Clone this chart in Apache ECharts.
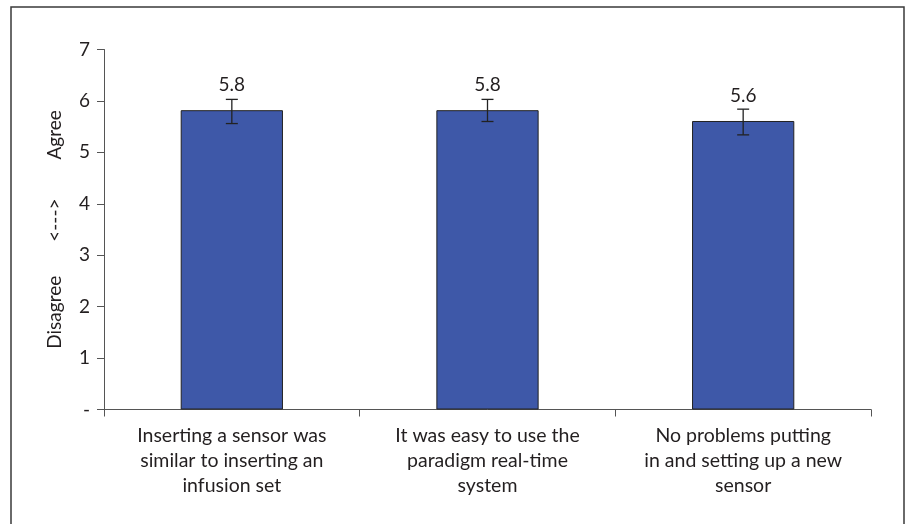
<!DOCTYPE html>
<html>
<head>
<meta charset="utf-8">
<script src="https://cdn.jsdelivr.net/npm/echarts@6/dist/echarts.min.js"></script>
<style>
html,body{margin:0;padding:0;background:#fff;}
#c{width:906px;height:524px;}
</style>
</head>
<body>
<div id="c"></div>
<script>
const categories = [
  "Inserting a sensor was\nsimilar to inserting an\ninfusion set",
  "It was easy to use the\nparadigm real-time\nsystem",
  "No problems putting\nin and setting up a new\nsensor"
];
const means = [5.82, 5.82, 5.61];
const errLow = [5.56, 5.60, 5.34];
const errHigh = [6.03, 6.03, 5.84];
const valueLabels = ["5.8", "5.8", "5.6"];
const yTickLabels = ["-", "1", "2", "3", "4", "5", "6", "7"];

const FONT = 'Lato';
const chart = echarts.init(document.getElementById('c'));
chart.setOption({
  animation: false,
  backgroundColor: '#fff',
  graphic: [{
    type: 'rect',
    shape: { x: 11, y: 7, width: 893, height: 530 },
    style: { fill: 'none', stroke: '#3a3a3a', lineWidth: 1.5 },
    silent: true
  }],
  grid: { left: 104, right: 35, top: 49.5, bottom: 114.5, containLabel: false },
  xAxis: {
    type: 'category',
    data: categories,
    axisLine: { lineStyle: { color: '#555', width: 1 } },
    axisTick: { show: true, length: 7, lineStyle: { color: '#555' } },
    axisLabel: { color: '#231f20', fontFamily: FONT, fontSize: 19.5, lineHeight: 25, margin: 14, interval: 0 }
  },
  yAxis: {
    type: 'value',
    min: 0, max: 7, interval: 1,
    name: 'Disagree       <--->        Agree',
    nameLocation: 'middle',
    nameGap: 40,
    nameTextStyle: { color: '#231f20', fontFamily: FONT, fontSize: 19 },
    splitLine: { show: false },
    axisLine: { show: true, lineStyle: { color: '#555', width: 1 } },
    axisTick: { show: true, length: 7, lineStyle: { color: '#555' } },
    axisLabel: {
      color: '#231f20', fontFamily: FONT, fontSize: 19, margin: 14,
      formatter: v => yTickLabels[v]
    }
  },
  series: [{
    type: 'bar',
    data: means,
    barWidth: '40%',
    itemStyle: { color: '#3e58a8', borderColor: '#222', borderWidth: 1 },
    label: {
      show: true, position: 'top', distance: 16,
      color: '#231f20', fontFamily: FONT, fontSize: 19,
      formatter: p => valueLabels[p.dataIndex]
    },
    z: 2
  }, {
    type: 'custom',
    data: means.map((m, i) => [i, errLow[i], errHigh[i]]),
    renderItem: function (params, api) {
      const x = api.value(0);
      const lo = api.coord([x, api.value(1)]);
      const hi = api.coord([x, api.value(2)]);
      const w = 6;
      const st = { stroke: '#222', lineWidth: 1.3 };
      return {
        type: 'group',
        children: [
          { type: 'line', shape: { x1: hi[0], y1: hi[1], x2: lo[0], y2: lo[1] }, style: st },
          { type: 'line', shape: { x1: hi[0] - w, y1: hi[1], x2: hi[0] + w, y2: hi[1] }, style: st },
          { type: 'line', shape: { x1: lo[0] - w, y1: lo[1], x2: lo[0] + w, y2: lo[1] }, style: st }
        ]
      };
    },
    z: 3
  }]
});
</script>
</body>
</html>
